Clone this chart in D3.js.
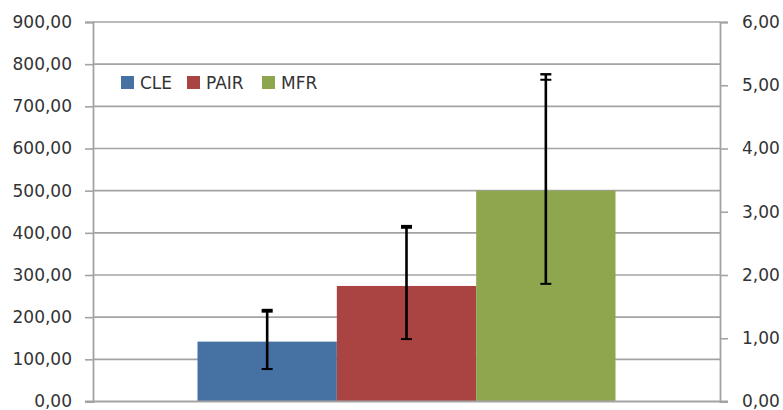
<!DOCTYPE html>
<html>
<head>
<meta charset="utf-8">
<script src="https://cdn.jsdelivr.net/npm/d3@7"></script>
<style>
  html, body { margin: 0; padding: 0; background: #fff; }
  svg { display: block; }
  text { font-family: "DejaVu Sans", Verdana, sans-serif; fill: #333; }
</style>
</head>
<body>
<svg id="chart" width="783" height="410"></svg>
<script>
// Single category, three series, each with an error range
const categories = [""];
const seriesNames = ["CLE", "PAIR", "MFR"];
const seriesColors = ["#4571A3", "#AA4443", "#8EA64E"];
const values = [142, 274, 500];
const errorLow = [77, 148, 279];
const errorHigh = [217, 416, 776];
const errorHighInner = [213, 412, 763];

const leftTicks = [0, 100, 200, 300, 400, 500, 600, 700, 800, 900];
const rightTicks = [0, 1, 2, 3, 4, 5, 6];

const svg = d3.select("#chart");
const plot = { left: 93, right: 720, top: 22, bottom: 401.5 };

const yLeft = d3.scaleLinear().domain([0, 900]).range([plot.bottom, plot.top]);
const yRight = d3.scaleLinear().domain([0, 6]).range([plot.bottom, plot.top]);

const x0 = d3.scaleBand().domain(categories).range([plot.left, plot.right]).padding(0);
const x1 = d3.scaleBand().domain(seriesNames).range([0, x0.bandwidth()])
  .paddingInner(0).paddingOuter(0.75);

const fmt = v => d3.format(".2f")(v).replace(".", ",");
const gridColor = "#a3a3a3";

// Horizontal gridlines
svg.append("g")
  .selectAll("line")
  .data(leftTicks.filter(d => d > 0))
  .join("line")
  .attr("x1", plot.left).attr("x2", plot.right)
  .attr("y1", d => yLeft(d)).attr("y2", d => yLeft(d))
  .attr("stroke", gridColor).attr("stroke-width", 1.6);

// Left axis
const leftAxis = svg.append("g")
  .attr("transform", `translate(${plot.left},0)`)
  .call(d3.axisLeft(yLeft).tickValues(leftTicks).tickFormat(fmt).tickSize(8).tickPadding(13));
leftAxis.select(".domain").attr("stroke", gridColor).attr("stroke-width", 1.8);
leftAxis.selectAll(".tick line").attr("stroke", gridColor).attr("stroke-width", 1.6);
leftAxis.selectAll(".tick text").style("font-size", "17px").attr("fill", "#333");

// Right axis
const rightAxis = svg.append("g")
  .attr("transform", `translate(${plot.right},0)`)
  .call(d3.axisRight(yRight).tickValues(rightTicks).tickFormat(fmt).tickSize(8).tickPadding(14));
rightAxis.select(".domain").attr("stroke", gridColor).attr("stroke-width", 1.8);
rightAxis.selectAll(".tick line").attr("stroke", gridColor).attr("stroke-width", 1.6);
rightAxis.selectAll(".tick text").style("font-size", "17px").attr("fill", "#333");

// Bars
const rows = seriesNames.map((name, i) => ({
  name, color: seriesColors[i], value: values[i],
  lo: errorLow[i], hi: errorHigh[i], hi2: errorHighInner[i]
}));

const group = svg.append("g").attr("transform", `translate(${x0(categories[0])},0)`);

group.selectAll("rect")
  .data(rows)
  .join("rect")
  .attr("x", d => x1(d.name))
  .attr("width", x1.bandwidth())
  .attr("y", d => yLeft(d.value))
  .attr("height", d => yLeft(0) - yLeft(d.value))
  .attr("fill", d => d.color);

// Bottom axis line
svg.append("line")
  .attr("x1", plot.left - 8).attr("x2", plot.right + 8)
  .attr("y1", plot.bottom).attr("y2", plot.bottom)
  .attr("stroke", gridColor).attr("stroke-width", 1.8);

// Error bars
const capHalf = 5.5;
const err = group.selectAll("g.err")
  .data(rows)
  .join("g")
  .attr("class", "err")
  .attr("transform", d => `translate(${x1(d.name) + x1.bandwidth() / 2},0)`);

err.append("line")
  .attr("y1", d => yLeft(d.lo)).attr("y2", d => yLeft(d.hi))
  .attr("stroke", "#000").attr("stroke-width", 2.6);
err.append("line")
  .attr("x1", -capHalf).attr("x2", capHalf)
  .attr("y1", d => yLeft(d.lo)).attr("y2", d => yLeft(d.lo))
  .attr("stroke", "#000").attr("stroke-width", 2);
err.append("line")
  .attr("x1", -capHalf).attr("x2", capHalf)
  .attr("y1", d => yLeft(d.hi)).attr("y2", d => yLeft(d.hi))
  .attr("stroke", "#000").attr("stroke-width", 2.4);
err.append("line")
  .attr("x1", -capHalf).attr("x2", capHalf)
  .attr("y1", d => yLeft(d.hi2)).attr("y2", d => yLeft(d.hi2))
  .attr("stroke", "#000").attr("stroke-width", 2);

// Legend
const legendX = [121, 187, 262];
const legend = svg.append("g")
  .selectAll("g")
  .data(rows)
  .join("g")
  .attr("transform", (d, i) => `translate(${legendX[i]},76)`);
legend.append("rect")
  .attr("width", 13).attr("height", 13)
  .attr("fill", d => d.color);
legend.append("text")
  .attr("x", 19).attr("y", 13)
  .style("font-size", "17px")
  .text(d => d.name);
</script>
</body>
</html>
